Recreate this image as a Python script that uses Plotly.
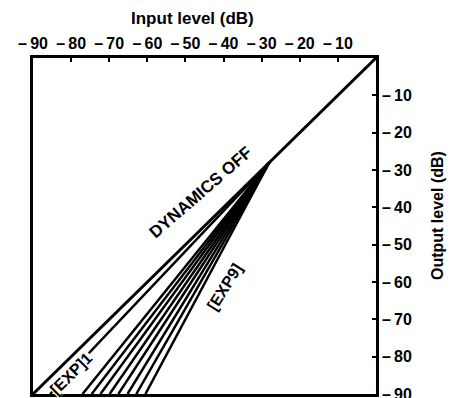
import plotly.graph_objects as go

# ---- data ----
x_ticks = [-90, -80, -70, -60, -50, -40, -30, -20, -10]
x_tick_labels = ["–\u200990", "–\u200980", "–\u200970", "–\u200960", "–\u200950",
                 "–\u200940", "–\u200930", "–\u200920", "–\u200910"]
y_ticks = [-10, -20, -30, -40, -50, -60, -70, -80, -90]
y_tick_labels = ["–\u200910", "–\u200920", "–\u200930", "–\u200940", "–\u200950",
                 "–\u200960", "–\u200970", "–\u200980", "–\u200990"]

off_input = [-90, 0]
off_output = [-90, 0]

threshold = -28
exp_names = ["EXP1", "EXP2", "EXP3", "EXP4", "EXP5", "EXP6", "EXP7", "EXP8", "EXP9"]
# input level (dB) at which each expander curve reaches the -90 dB floor
exp_floor_input = [-85.5, -77.0, -74.6, -72.3, -69.9, -67.6, -65.2, -62.9, -60.5]
floor_output = -90

FONT = "Liberation Sans, Arial, sans-serif"

fig = go.Figure()

fig.add_trace(go.Scatter(x=off_input, y=off_output, mode="lines",
                         line=dict(color="black", width=3), showlegend=False,
                         name="DYNAMICS OFF"))
for name, xi in zip(exp_names, exp_floor_input):
    fig.add_trace(go.Scatter(x=[xi, threshold], y=[floor_output, threshold], mode="lines",
                             line=dict(color="black", width=2.5), showlegend=False,
                             name=name))

axis_common = dict(
    range=[-90, 0], tickmode="array", automargin=False,
    tickfont=dict(size=16, family=FONT, color="black"),
    ticks="inside", ticklen=4, tickwidth=1.5, tickcolor="black",
    showgrid=False, zeroline=False, ticklabeloverflow="allow",
    showline=True, linecolor="black", linewidth=2.5, mirror=True,
)

fig.update_layout(
    width=455, height=390,
    margin=dict(l=25, r=87, t=50, b=4),
    paper_bgcolor="white", plot_bgcolor="white",
    font=dict(family=FONT, color="black"),
    xaxis=dict(side="top", tickvals=x_ticks,
               ticktext=[f"<b>{t}</b>" for t in x_tick_labels], **axis_common),
    yaxis=dict(side="right", tickvals=y_ticks,
               ticktext=[f"<b>{t}</b>" for t in y_tick_labels], **axis_common),
    annotations=[
        dict(text="<b>Input level (dB)</b>", xref="paper", yref="paper",
             x=0.466, y=1.119, xanchor="center", yanchor="middle",
             showarrow=False, font=dict(size=17, family=FONT)),
        dict(text="<b>Output level (dB)</b>", xref="paper", yref="paper",
             x=1.181, y=0.53, xanchor="center", yanchor="middle", textangle=-90,
             showarrow=False, font=dict(size=16, family=FONT)),
        dict(text="<b>DYNAMICS OFF</b>", x=-46, y=-36, textangle=-41, showarrow=False,
             font=dict(size=17, family=FONT)),
        dict(text="<b>[EXP]1</b>", x=-80, y=-84.4, textangle=-45, showarrow=False,
             bgcolor="white", borderpad=0, font=dict(size=16, family=FONT)),
        dict(text="<b>[EXP9]</b>", x=-39.6, y=-61.3, textangle=-58, showarrow=False,
             font=dict(size=16, family=FONT)),
    ],
)

fig.write_html("out.html")
